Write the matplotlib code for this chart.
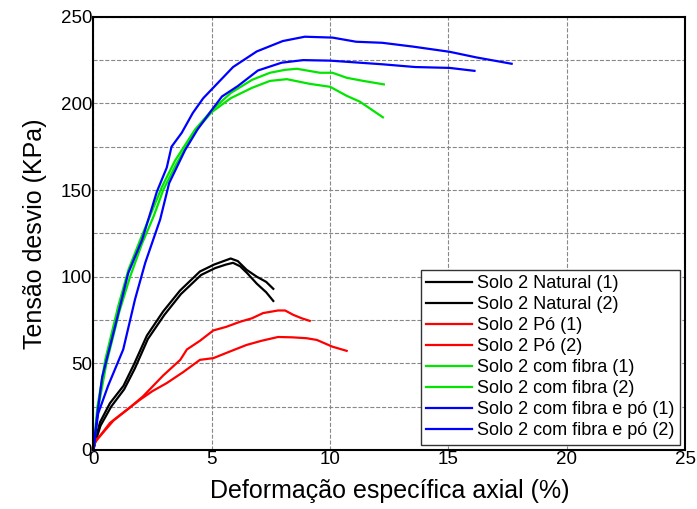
import matplotlib.pyplot as plt
from matplotlib.ticker import MultipleLocator

plt.rcParams['font.family'] = ['Liberation Sans', 'DejaVu Sans']

# Solo 2 Natural
nat1_x = [0, 0.07, 0.28, 0.7, 1.27, 1.7, 2.26, 2.95, 3.66, 4.5, 5.1, 5.5, 5.8, 6.1, 6.47, 6.9, 7.3, 7.6]
nat1_y = [0, 5, 16, 27, 37, 49, 66, 80, 92, 103, 107, 109, 110.5, 109, 104, 100, 97, 93]
nat2_x = [0, 0.07, 0.3, 0.75, 1.3, 1.75, 2.3, 3.0, 3.7, 4.55, 5.15, 5.6, 5.9, 6.2, 6.5, 6.9, 7.3, 7.6]
nat2_y = [0, 4, 14, 25, 35, 47, 64, 78, 90, 101, 105, 107, 108, 106, 102, 96, 91, 86]

# Solo 2 Pó
po1_x = [0, 0.05, 0.28, 0.85, 1.5, 2.1, 2.95, 3.67, 3.95, 4.5, 5.07, 5.6, 6.2, 6.7, 7.17, 7.8, 8.1, 8.44, 8.8, 9.14]
po1_y = [0, 5, 8, 17, 24, 31, 43, 52, 58, 63, 69, 71, 74, 76, 79, 80.5, 80.5, 78, 76, 74.5]
po2_x = [0, 0.05, 0.7, 1.3, 1.97, 2.5, 3.1, 3.8, 4.5, 5.07, 5.8, 6.47, 7.1, 7.8, 8.4, 9.0, 9.44, 10.1, 10.7]
po2_y = [0, 4, 15.6, 22, 29, 34, 38.6, 45, 52, 53, 57, 60.6, 63, 65.2, 65, 64.5, 63.5, 59.6, 57.2]

# Solo 2 com fibra
fib1_x = [0, 0.17, 0.5, 1.05, 1.48, 2.0, 2.48, 2.9, 3.45, 4.3, 5.0, 5.8, 6.7, 7.46, 8.1, 8.6, 9.57, 10.1, 10.7, 11.4, 12.27]
fib1_y = [0, 25, 52, 83, 104, 122, 138, 152, 167, 185, 196, 206, 213.6, 217.7, 219.4, 220, 217.7, 217.7, 214.8, 213, 211]
fib2_x = [0, 0.2, 0.55, 1.1, 1.55, 2.05, 2.55, 2.95, 3.5, 4.3, 5.0, 5.8, 6.7, 7.46, 8.17, 9.14, 10.0, 10.7, 11.26, 12.23]
fib2_y = [0, 24, 50, 80, 100, 119, 135, 150, 165, 184, 195, 203, 209, 213, 214, 211.3, 209.6, 204.4, 201, 192]

# Solo 2 com fibra e pó
fp1_x = [0, 0.17, 0.37, 0.91, 1.47, 2.05, 2.68, 3.1, 3.3, 3.73, 4.2, 4.64, 5.2, 5.9, 6.9, 8.0, 8.93, 10.1, 11.1, 12.2, 13.5, 15.05, 16.2, 17.67]
fp1_y = [0, 21, 42, 71, 102, 121, 149, 163, 175, 183, 194.5, 203, 211, 221, 230, 236, 238.5, 238, 235.6, 235, 232.8, 229.8, 226.5, 222.9]
fp2_x = [0, 0.2, 0.62, 1.26, 1.76, 2.19, 2.82, 3.2, 3.87, 4.4, 4.99, 5.43, 6.1, 6.95, 7.95, 8.86, 10.0, 12.2, 13.6, 15.05, 16.1]
fp2_y = [0, 21, 37, 58, 87, 108, 133, 154, 173, 185, 196, 204, 210, 219, 223.5, 225, 224.7, 222.6, 221, 220.5, 218.8]

series = [
    (nat1_x, nat1_y, 'k', 'Solo 2 Natural (1)'),
    (nat2_x, nat2_y, 'k', 'Solo 2 Natural (2)'),
    (po1_x, po1_y, '#ff0000', 'Solo 2 Pó (1)'),
    (po2_x, po2_y, '#ff0000', 'Solo 2 Pó (2)'),
    (fib1_x, fib1_y, '#00e600', 'Solo 2 com fibra (1)'),
    (fib2_x, fib2_y, '#00e600', 'Solo 2 com fibra (2)'),
    (fp1_x, fp1_y, '#0000ff', 'Solo 2 com fibra e pó (1)'),
    (fp2_x, fp2_y, '#0000ff', 'Solo 2 com fibra e pó (2)'),
]

fig, ax = plt.subplots(figsize=(6.97, 5.09), dpi=100)
fig.subplots_adjust(left=0.134, right=0.983, top=0.967, bottom=0.116)

for xs, ys, c, lab in series:
    ax.plot(xs, ys, color=c, lw=1.6, label=lab)

ax.set_xlim(0, 25)
ax.set_ylim(0, 250)
ax.xaxis.set_major_locator(MultipleLocator(5))
ax.yaxis.set_major_locator(MultipleLocator(50))
ax.yaxis.set_minor_locator(MultipleLocator(25))
ax.tick_params(which='both', direction='in', length=0, labelsize=13.5, pad=1)
ax.grid(True, which='major', color='#888888', ls='--', lw=0.8)
ax.grid(True, which='minor', axis='y', color='#888888', ls='--', lw=0.8)

ax.set_xlabel('Deformação específica axial (%)', fontsize=18, labelpad=8)
ax.set_ylabel('Tensão desvio (KPa)', fontsize=18, labelpad=10)

for s in ax.spines.values():
    s.set_linewidth(1.5)

ax.legend(loc='lower right', fontsize=13, frameon=True, fancybox=False,
          edgecolor='#333333', handlelength=2.5, handletextpad=0.3,
          labelspacing=0.22, borderpad=0.3, borderaxespad=0.3, framealpha=1)

fig.savefig('out.png')
